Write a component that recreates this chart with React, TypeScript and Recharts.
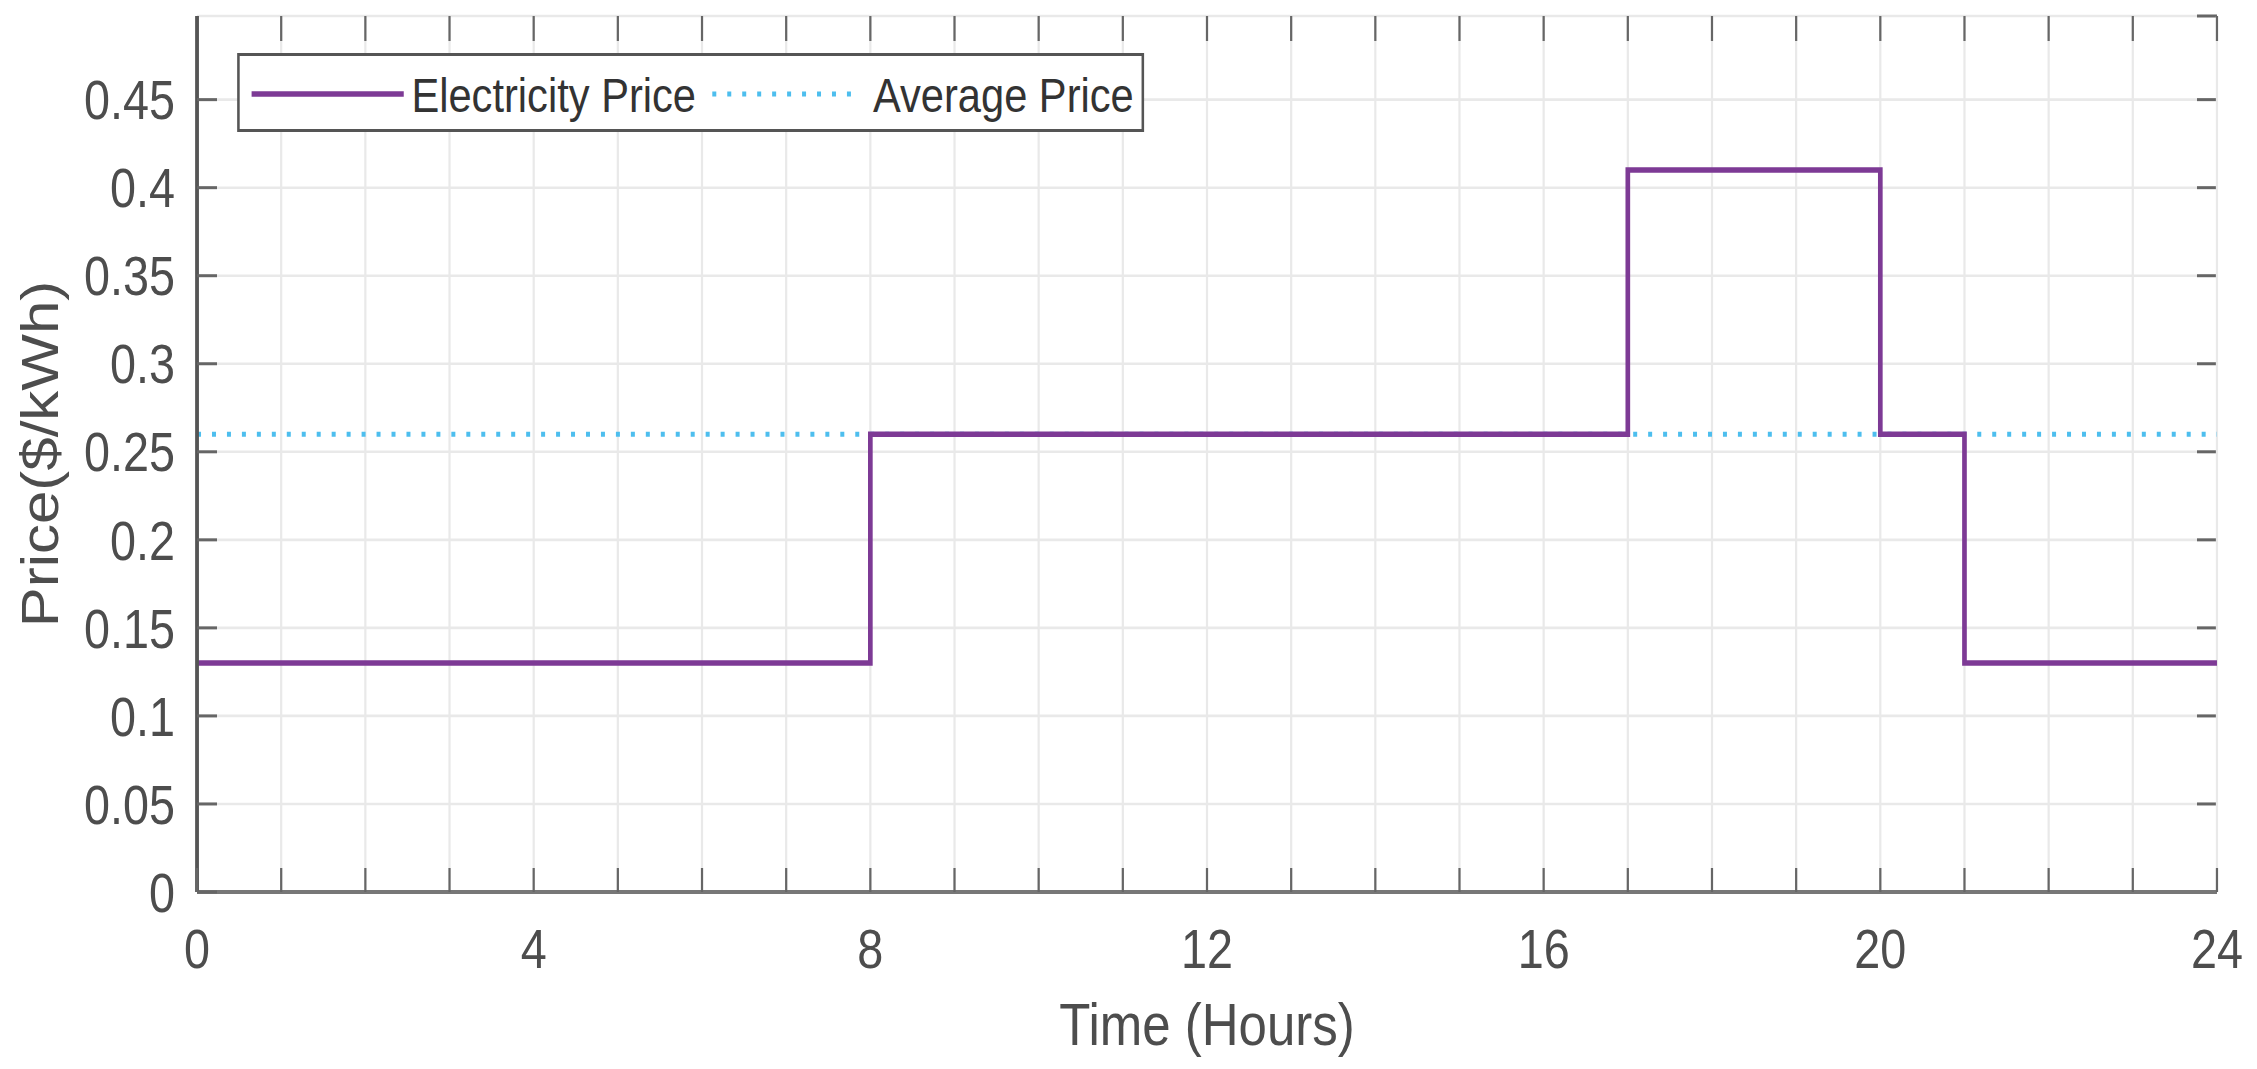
import React from 'react';
import { LineChart, Line, XAxis, YAxis, CartesianGrid, Legend } from 'recharts';

// ---- data ----
const HOURS = [0, 8, 17, 20, 21, 24];
const PRICES = [0.13, 0.26, 0.41, 0.26, 0.13, 0.13];
const AVERAGE_PRICE = 0.26;
const X_TICKS = [0, 1, 2, 3, 4, 5, 6, 7, 8, 9, 10, 11, 12, 13, 14, 15, 16, 17, 18, 19, 20, 21, 22, 23, 24];
const X_LABELED = [0, 4, 8, 12, 16, 20, 24];
const Y_TICKS = [0, 0.05, 0.1, 0.15, 0.2, 0.25, 0.3, 0.35, 0.4, 0.45];
const Y_TICK_LABELS = ['0', '0.05', '0.1', '0.15', '0.2', '0.25', '0.3', '0.35', '0.4', '0.45'];
const SERIES_NAMES = ['Electricity Price', 'Average Price'];
const X_TITLE = 'Time (Hours)';
const Y_TITLE = 'Price($/kWh)';

const data = HOURS.map((h, i) => ({ hour: h, price: PRICES[i], avg: AVERAGE_PRICE }));

// ---- style ----
const SQ = 0.85; // horizontal squeeze of the whole figure
const W = 2656;
const H = 1069;
const FONT = '"Liberation Sans", Arial, Helvetica, sans-serif';
const PURPLE = '#7D3A95';
const CYAN = '#4DBEEE';
const TEXT = '#4d4d4d';
const TICK = '#666666';
const GRID = '#e9e9e9';

const XTickBottom = (props: any) => {
  const { x, y, payload } = props;
  const show = X_LABELED.includes(payload.value);
  return (
    <g>
      <line x1={x} x2={x} y1={y} y2={y - 24} stroke={TICK} strokeWidth={2.6} />
      {show && (
        <text x={x} y={y + 76} textAnchor="middle" fontSize={55} fontFamily={FONT} fill={TEXT}>
          {String(payload.value)}
        </text>
      )}
    </g>
  );
};

const YTickLeft = (props: any) => {
  const { x, y, payload, index } = props;
  const label = Y_TICK_LABELS[index] ?? String(payload.value);
  return (
    <g>
      <line x1={x} x2={x + 23.5} y1={y} y2={y} stroke={TICK} strokeWidth={3} />
      <text x={x - 26} y={y + 19.7} textAnchor="end" fontSize={55} fontFamily={FONT} fill={TEXT}>
        {label}
      </text>
    </g>
  );
};

// grid line + matching tick on the top edge
const VGridLine = (props: any) => {
  const { x1, x2, y1, y2 } = props;
  const top = Math.min(y1, y2);
  return (
    <g>
      <line x1={x1} x2={x2} y1={y1} y2={y2} stroke={GRID} strokeWidth={2.6} />
      <line x1={x1} x2={x1} y1={top} y2={top + 25} stroke={TICK} strokeWidth={2.6} />
    </g>
  );
};

// grid line + matching tick on the right edge
const HGridLine = (props: any) => {
  const { x1, x2, y1, y2 } = props;
  const right = Math.max(x1, x2);
  return (
    <g>
      <line x1={x1} x2={x2} y1={y1} y2={y2} stroke={GRID} strokeWidth={2.6} />
      <line x1={right - 23.5} x2={right} y1={y1} y2={y1} stroke={TICK} strokeWidth={3} />
    </g>
  );
};

const XTitle = (props: any) => {
  const vb = props.viewBox || {};
  return (
    <text x={vb.x + vb.width / 2} y={vb.y + 153} textAnchor="middle" fontSize={60} fontFamily={FONT} fill={TEXT}>
      {X_TITLE}
    </text>
  );
};

const YTitle = (props: any) => {
  const vb = props.viewBox || {};
  const cx = 68;
  const cy = vb.y + vb.height / 2;
  return (
    <text
      x={cx}
      y={cy}
      transform={`rotate(-90, ${cx}, ${cy})`}
      textAnchor="middle"
      fontSize={60}
      fontFamily={FONT}
      fill={TEXT}
    >
      {Y_TITLE}
    </text>
  );
};

const LegendBox = () => (
  <svg width={1067} height={79} style={{ display: 'block', overflow: 'visible' }}>
    <rect x={1.5} y={1.5} width={1064} height={76} fill="#ffffff" stroke="#555555" strokeWidth={3} />
    <line x1={17} x2={196} y1={41} y2={41} stroke={PURPLE} strokeWidth={5.5} />
    <text x={205} y={59} fontSize={49} fontFamily={FONT} fill="#333333">
      {SERIES_NAMES[0]}
    </text>
    <line x1={559} x2={734} y1={41} y2={41} stroke={CYAN} strokeWidth={5} strokeDasharray="4.7 12.9" />
    <text x={748} y={59} fontSize={49} fontFamily={FONT} fill="#333333">
      {SERIES_NAMES[1]}
    </text>
  </svg>
);

const NoLabel = () => <g />;

export default function App() {
  return (
    <div
      style={{
        position: 'fixed',
        left: 0,
        top: 0,
        width: 2257,
        height: 1069,
        overflow: 'hidden',
        background: '#ffffff',
      }}
    >
      <div style={{ transform: `scaleX(${SQ})`, transformOrigin: '0 0', width: W, height: H }}>
        <LineChart
          width={W}
          height={H}
          data={data}
          margin={{ top: 16, right: 47.8, bottom: 77, left: 0 }}
          style={{ background: '#ffffff' }}
        >
          <CartesianGrid vertical={VGridLine} horizontal={HGridLine} />
          <XAxis
            dataKey="hour"
            type="number"
            domain={[0, 24]}
            ticks={X_TICKS}
            interval={0}
            height={100}
            tickSize={0}
            tickMargin={0}
            tickLine={false}
            tick={<XTickBottom />}
            axisLine={{ stroke: '#777777', strokeWidth: 4 }}
            label={<XTitle />}
            allowDataOverflow
          />
          <XAxis
            xAxisId="top"
            orientation="top"
            dataKey="hour"
            type="number"
            domain={[0, 24]}
            ticks={X_TICKS}
            interval={0}
            height={0}
            tickSize={0}
            tickLine={false}
            tick={<NoLabel />}
            axisLine={{ stroke: '#666666', strokeWidth: 3 }}
            allowDataOverflow
          />
          <YAxis
            type="number"
            domain={[0, 0.4975]}
            ticks={Y_TICKS}
            interval={0}
            width={231.8}
            tickSize={0}
            tickMargin={0}
            tickLine={false}
            tick={<YTickLeft />}
            axisLine={{ stroke: '#555555', strokeWidth: 4.5 }}
            label={<YTitle />}
            allowDataOverflow
          />
          <YAxis
            yAxisId="right"
            orientation="right"
            type="number"
            domain={[0, 0.4975]}
            ticks={Y_TICKS}
            interval={0}
            width={0}
            tickSize={0}
            tickLine={false}
            tick={<NoLabel />}
            axisLine={{ stroke: '#999999', strokeWidth: 4.5 }}
            allowDataOverflow
          />
          <Line
            name={SERIES_NAMES[1]}
            dataKey="avg"
            xAxisId="top"
            yAxisId="right"
            type="linear"
            stroke={CYAN}
            strokeWidth={5}
            strokeDasharray="4.7 12.9"
            dot={false}
            activeDot={false}
            isAnimationActive={false}
          />
          <Line
            name={SERIES_NAMES[0]}
            dataKey="price"
            type="stepAfter"
            stroke={PURPLE}
            strokeWidth={5.5}
            strokeLinejoin="miter"
            dot={false}
            activeDot={false}
            isAnimationActive={false}
          />
          <Legend
            layout="horizontal"
            verticalAlign="middle"
            align="center"
            wrapperStyle={{ top: 53, left: 278.8, width: 1067, height: 79, margin: 0, padding: 0 }}
            content={<LegendBox />}
          />
        </LineChart>
      </div>
    </div>
  );
}
